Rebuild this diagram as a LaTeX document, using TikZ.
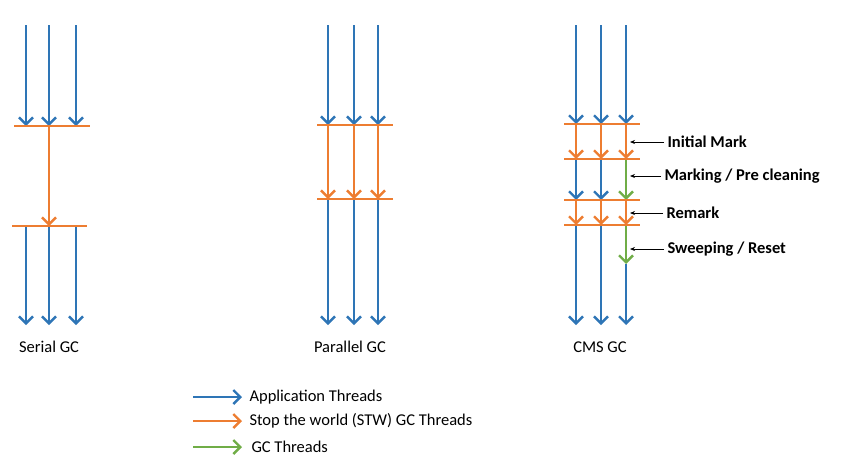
\documentclass[tikz,border=0pt]{standalone}
\usepackage{fontspec}
\setmainfont{Carlito}
\usetikzlibrary{arrows.meta}
\definecolor{appblue}{RGB}{46,117,182}
\definecolor{stworange}{RGB}{237,125,49}
\definecolor{gcgreen}{RGB}{112,173,71}
\tikzset{
 thread/.style={line width=2.6pt,-{Straight Barb[length=7pt,width=14pt,line width=2.4pt]}},
 app/.style={thread,appblue},
 stw/.style={thread,stworange},
 gc/.style={thread,gcgreen},
 bar/.style={line width=2.6pt,stworange},
 note/.style={thick,-{Stealth[length=5pt,width=4pt]}},
 phase/.style={anchor=west,font=\fontsize{16.5}{19}\selectfont\bfseries},
 title/.style={font=\fontsize{16.5}{19}\selectfont},
 legend/.style={anchor=west,font=\fontsize{16.5}{19}\selectfont}
}
\begin{document}
\begin{tikzpicture}[x=1pt,y=-1pt]
\useasboundingbox (0,0) rectangle (857,464);

% Serial GC
\foreach \n/\x in {1/26,2/49,3/76}
{
 \coordinate (s\n a) at (\x,25);
 \coordinate (s\n b) at (\x,126);
 \coordinate (s\n c) at (\x,226);
 \coordinate (s\n d) at (\x,325);
 \draw[app] (s\n a) -- (s\n b);
 \draw[app] (s\n c) -- (s\n d);
}
\coordinate (sbar1l) at (14,126);
\coordinate (sbar1r) at (90,126);
\coordinate (sbar2l) at (12,226);
\coordinate (sbar2r) at (87,226);
\draw[stw] (s2b) -- (s2c);
\draw[bar] (sbar1l) -- (sbar1r);
\draw[bar] (sbar2l) -- (sbar2r);
\node[title] (serial) at (49,347) {Serial GC};

% Parallel GC
\foreach \n/\x in {1/328,2/354,3/378}
{
 \coordinate (p\n a) at (\x,25);
 \coordinate (p\n b) at (\x,125);
 \coordinate (p\n c) at (\x,199);
 \coordinate (p\n d) at (\x,325);
 \draw[app] (p\n a) -- (p\n b);
 \draw[stw] (p\n b) -- (p\n c);
 \draw[app] (p\n c) -- (p\n d);
}
\coordinate (pbar1l) at (317,125);
\coordinate (pbar1r) at (393,125);
\coordinate (pbar2l) at (317,199);
\coordinate (pbar2r) at (393,199);
\draw[bar] (pbar1l) -- (pbar1r);
\draw[bar] (pbar2l) -- (pbar2r);
\node[title] (parallel) at (350,347) {Parallel GC};

% CMS GC
\foreach \n/\x in {1/576,2/601,3/626}
{
 \coordinate (c\n a) at (\x,25);
 \coordinate (c\n b) at (\x,124);
 \coordinate (c\n c) at (\x,159);
 \coordinate (c\n d) at (\x,200);
 \coordinate (c\n e) at (\x,225);
 \coordinate (c\n f) at (\x,264);
 \coordinate (c\n g) at (\x,325);
 \draw[app] (c\n a) -- (c\n b);
 \draw[stw] (c\n b) -- (c\n c);
 \draw[stw] (c\n d) -- (c\n e);
}
\foreach \n in {1,2}
{
 \draw[app] (c\n c) -- (c\n d);
 \draw[app] (c\n e) -- (c\n g);
}
\draw[gc] (c3c) -- (c3d);
\draw[app] (c3f) -- (c3g);
\draw[gc] (c3e) -- (c3f);
\foreach \y/\k in {124/1,159/2,200/3,225/4}
{
 \coordinate (cbar\k l) at (564,\y);
 \coordinate (cbar\k r) at (640,\y);
 \draw[bar] (cbar\k l) -- (cbar\k r);
}
\node[title] (cms) at (600,347) {CMS GC};

% phases
\node[phase] (initial) at (664,142) {Initial Mark};
\node[phase] (marking) at (661,176) {Marking / Pre cleaning};
\node[phase] (remark) at (663,213) {Remark};
\node[phase] (sweep) at (664,249) {Sweeping / Reset};
\coordinate (tinitial) at (630,142);
\coordinate (tmarking) at (630,176);
\coordinate (tremark) at (630,213);
\coordinate (tsweep) at (630,249);
\draw[note] (initial.west) -- (tinitial);
\draw[note] (marking.west) -- (tmarking);
\draw[note] (remark.west) -- (tremark);
\draw[note] (sweep.west) -- (tsweep);

% legend
\node[legend] (lapp) at (246,397) {Application Threads};
\node[legend] (lstw) at (246,421) {Stop the world (STW) GC Threads};
\node[legend] (lgc) at (248,447) {GC Threads};
\coordinate (kapp) at (193,397);
\coordinate (kstw) at (193,421);
\coordinate (kgc) at (193,447);
\draw[app,shorten >=4pt] (kapp) -- (lapp.west);
\draw[stw,shorten >=4pt] (kstw) -- (lstw.west);
\draw[gc,shorten >=6pt] (kgc) -- (lgc.west);

\end{tikzpicture}
\end{document}
